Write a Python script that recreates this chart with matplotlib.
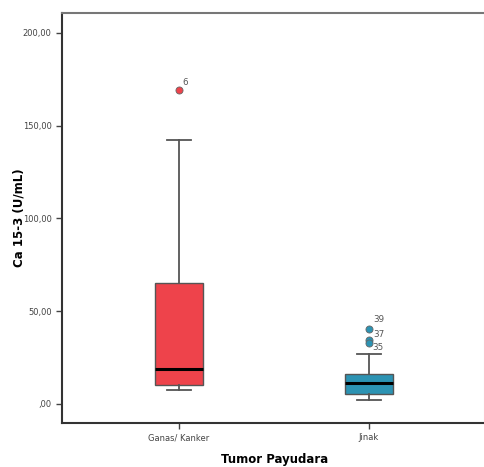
import matplotlib
matplotlib.use("Agg")
import matplotlib.pyplot as plt
from matplotlib.ticker import FuncFormatter

categories = ["Ganas/ Kanker", "Jinak"]
whislo = [7.5, 2.2]
q1 = [10.2, 5.2]
median = [19.0, 11.1]
q3 = [65.0, 16.0]
whishi = [142.0, 27.1]
outliers = [[169.0], [40.4, 34.5, 32.7]]
outlier_labels = [["6"], ["39", "37", "35"]]
box_colors = ["#EE434B", "#2C93B3"]
yticks = [0, 50, 100, 150, 200]

fig = plt.figure(figsize=(4.85, 4.67), dpi=100)
ax = fig.add_axes([0.1278, 0.0949, 0.870, 0.878])

stats = []
for i in range(len(categories)):
    stats.append(dict(med=median[i], q1=q1[i], q3=q3[i], whislo=whislo[i],
                      whishi=whishi[i], fliers=[], label=categories[i]))
positions = list(range(len(categories)))
bp = ax.bxp(stats, positions=positions, widths=0.253, patch_artist=True,
            showfliers=False,
            medianprops=dict(color="black", linewidth=2.2),
            whiskerprops=dict(color="#555555", linewidth=1.3),
            capprops=dict(color="#555555", linewidth=1.3),
            boxprops=dict(edgecolor="#555555", linewidth=1.0))
for patch, c in zip(bp["boxes"], box_colors):
    patch.set_facecolor(c)
for j, cap in enumerate(bp["caps"]):
    p = positions[j // 2]
    cap.set_xdata([p - 0.064, p + 0.064])

for i, vals in enumerate(outliers):
    ax.scatter([positions[i]] * len(vals), vals, s=26, color=box_colors[i],
               edgecolor="#666666", linewidth=0.6, zorder=3)

# outlier id labels
lab_kw = dict(fontsize=6.3, color="#555555", ha="left", va="center")
ax.text(positions[0] + 0.02, outliers[0][0] + 4.5, outlier_labels[0][0], **lab_kw)
ax.text(positions[1] + 0.022, outliers[1][0] + 5.0, outlier_labels[1][0], **lab_kw)
ax.text(positions[1] + 0.022, outliers[1][1] + 3.0, outlier_labels[1][1], **lab_kw)
ax.text(positions[1] + 0.018, outliers[1][2] - 2.5, outlier_labels[1][2], **lab_kw)

ax.set_xlim(-0.616, 1.605)
ax.set_ylim(-10.1, 210.9)
ax.set_yticks(yticks)
ax.yaxis.set_major_formatter(FuncFormatter(
    lambda v, p: ",00" if v == 0 else f"{int(v)},00"))
ax.set_xticks(positions)
ax.set_xticklabels(categories)
ax.tick_params(axis="both", labelsize=6.0, labelcolor="#444444", color="#444444",
               length=4, width=1.0)
for s in ["left", "bottom"]:
    ax.spines[s].set_linewidth(1.5)
    ax.spines[s].set_color("#333333")
ax.spines["top"].set_linewidth(1.5)
ax.spines["top"].set_color("#777777")
ax.spines["right"].set_linewidth(0.8)
ax.spines["right"].set_color("#dddddd")

ax.set_ylabel("Ca 15-3 (U/mL)", fontsize=8.5, fontweight="bold", va="center")
ax.yaxis.set_label_coords(-0.102, 0.5)
ax.set_xlabel("Tumor Payudara", fontsize=8.5, fontweight="bold", va="center")
ax.xaxis.set_label_coords(0.505, -0.091)

fig.savefig("out.png", dpi=100)
